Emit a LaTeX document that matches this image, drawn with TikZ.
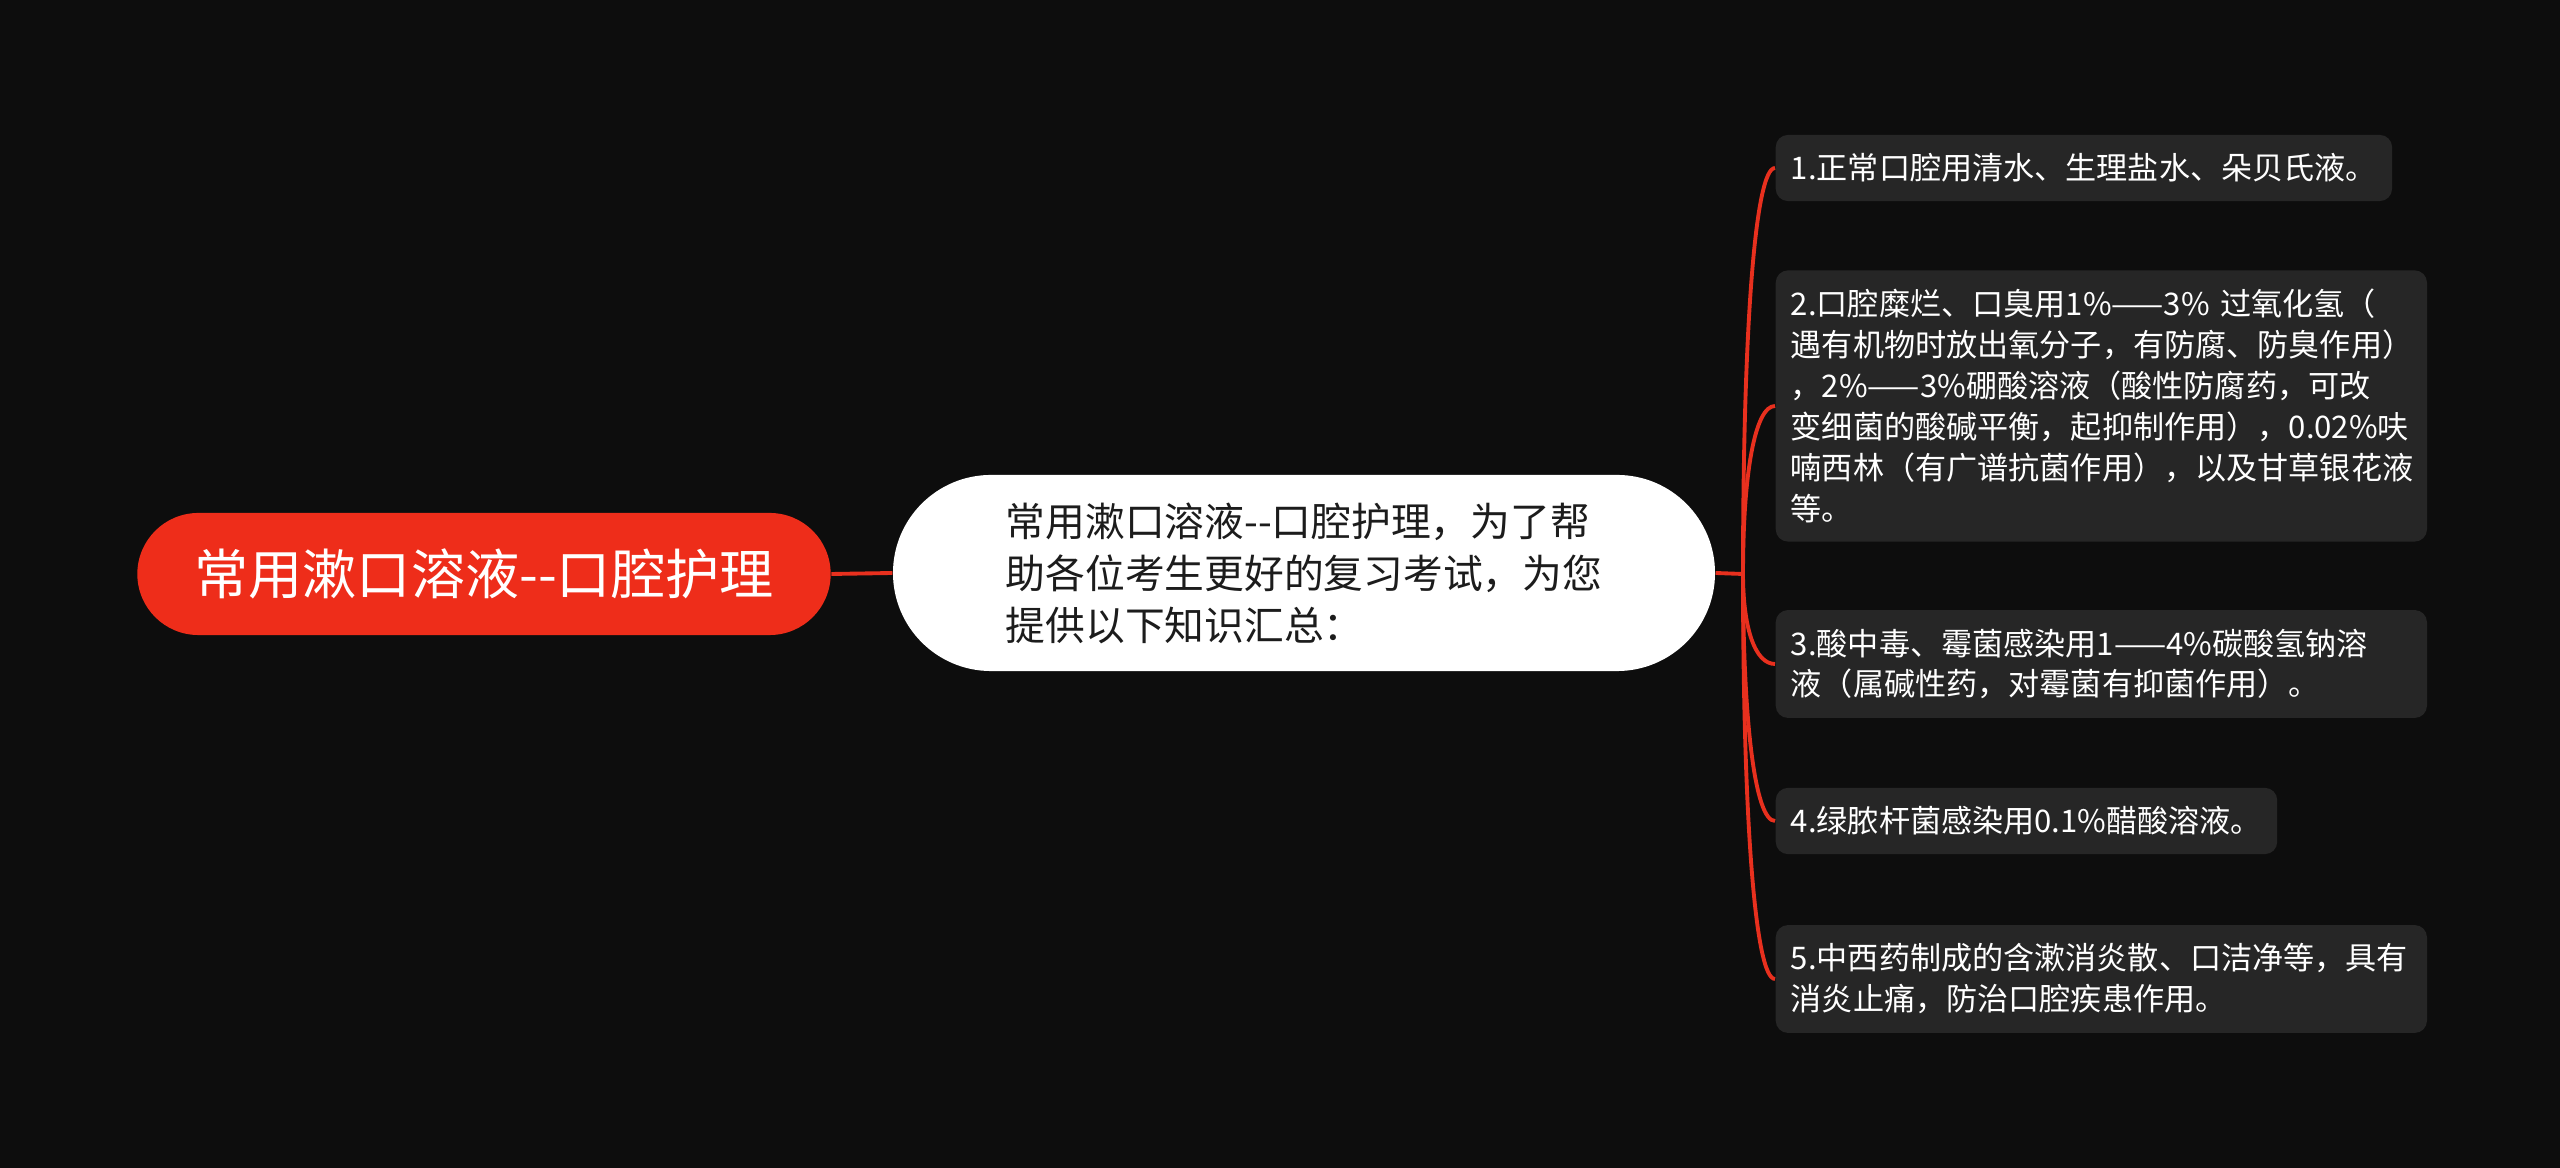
\documentclass[tikz,border=0pt]{standalone}
\usepackage{fontspec}
\newfontfamily\cjk[Ligatures=TeXOff]{Noto Sans CJK SC}
\usepackage{tikz}
\usetikzlibrary{shapes.misc, calc}
\definecolor{bgdark}{RGB}{13, 13, 13}
\definecolor{rootred}{RGB}{238, 45, 26}
\definecolor{linkred}{RGB}{232, 48, 30}
\definecolor{tipgray}{RGB}{38, 38, 38}
\definecolor{introtext}{RGB}{28, 28, 28}

\tikzset{
  rootbox/.style={rounded rectangle, fill=rootred, text=white, inner xsep=1pt,
    minimum width=7cm, minimum height=1.22cm, font={\cjk\fontsize{15.4}{18}\selectfont}},
  introbox/.style={rounded rectangle, fill=white, text=introtext, align=left,
    minimum width=8.45cm, minimum height=1.96cm, font={\cjk\fontsize{11.3}{14.8}\selectfont}},
  tipbox/.style={anchor=west, fill=tipgray, text=white, rounded corners=3.5pt, align=left,
    inner xsep=4.3pt, inner ysep=5.3pt, font={\cjk\fontsize{8.85}{11.65}\selectfont}},
  widetip/.style={tipbox, text width=176.6pt},
  link/.style={draw=linkred, line width=1.1pt},
}

\begin{document}
\begin{tikzpicture}[x=0.01cm, y=-0.01cm]
  \fill[bgdark] (0, 0) rectangle (2560, 1168);
  \useasboundingbox (0, 0) rectangle (2560, 1168);

  % Root
  \node[rootbox] (root) at (484, 574) {常用漱口溶液--口腔护理};

  % Intro
  \node[introbox] (intro) at (1304, 573) {
    常用漱口溶液--口腔护理，为了帮\\
    助各位考生更好的复习考试，为您\\
    提供以下知识汇总：
  };

  % Tips
  \node[tipbox] (tip1) at (1775, 168) {1.正常口腔用清水、生理盐水、朵贝氏液。};
  \node[widetip] (tip2) at (1775, 406) {
    2.口腔糜烂、口臭用1\%——3\% 过氧化氢（\\
    遇有机物时放出氧分子，有防腐、防臭作用）\\
    ，2\%——3\%硼酸溶液（酸性防腐药，可改\\
    变细菌的酸碱平衡，起抑制作用），0.02\%呋\\
    喃西林（有广谱抗菌作用），以及甘草银花液\\
    等。
  };
  \node[widetip] (tip3) at (1775, 664) {
    3.酸中毒、霉菌感染用1——4\%碳酸氢钠溶\\
    液（属碱性药，对霉菌有抑菌作用）。
  };
  \node[tipbox] (tip4) at (1775, 821) {4.绿脓杆菌感染用0.1\%醋酸溶液。};
  \node[widetip] (tip5) at (1775, 979) {
    5.中西药制成的含漱消炎散、口洁净等，具有\\
    消炎止痛，防治口腔疾患作用。
  };

  % Links
  \coordinate (fork) at (1743, 574);
  \draw[link] (root.east) -- (intro.west);
  \draw[link] (intro.east) -- (fork);
  \foreach \i in {1,...,5}
    \draw[link] (fork) .. controls ($(fork)!0.6!(fork |- tip\i.west)$)
      and ($(tip\i.west)+(-20, 0)$) .. (tip\i.west);
\end{tikzpicture}
\end{document}
